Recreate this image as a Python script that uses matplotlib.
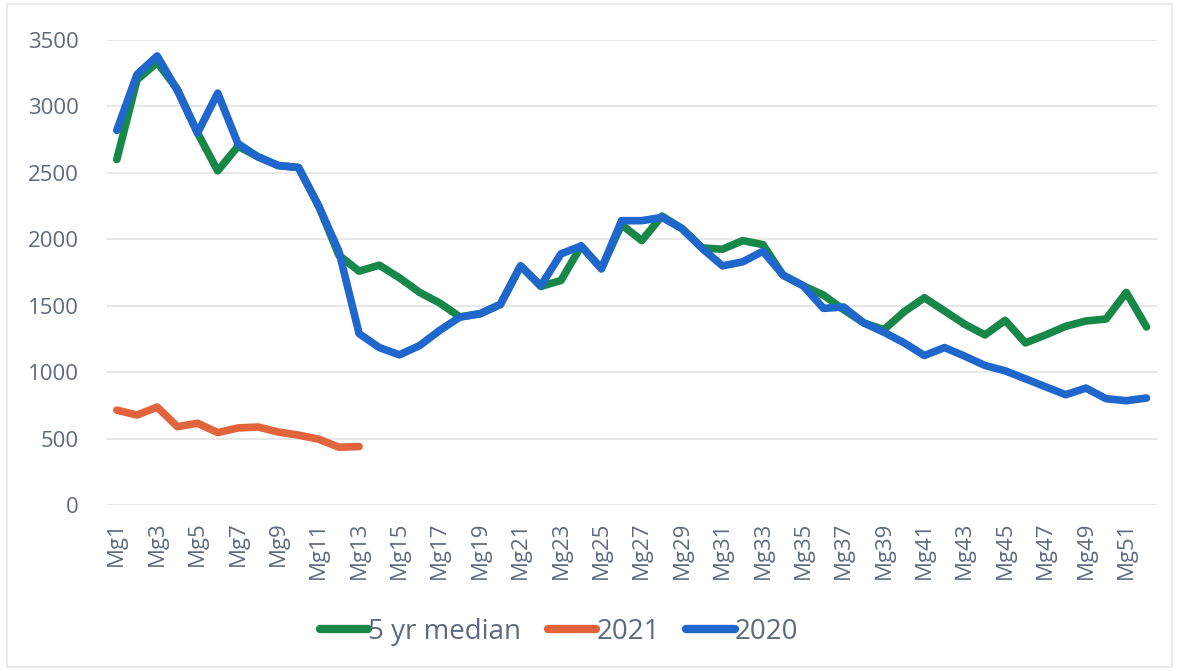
import matplotlib.pyplot as plt
from matplotlib.patches import Rectangle

# weeks Mg1..Mg52
weeks = ["Mg%d" % i for i in range(1, 53)]

median_5yr = [2600, 3200, 3330, 3130, 2800, 2515, 2700, 2620, 2555, 2540,
              2250, 1880, 1760, 1805, 1710, 1600, 1520, 1415, 1440, 1510,
              1800, 1645, 1690, 1950, 1780, 2110, 1990, 2175, 2080, 1935,
              1925, 1990, 1960, 1730, 1650, 1580, 1470, 1370, 1320, 1455,
              1560, 1460, 1360, 1280, 1390, 1220, 1280, 1345, 1385, 1400,
              1600, 1340]

y2021 = [714, 677, 737, 590, 615, 545, 580, 587, 549, 526, 495, 435, 440]

y2020 = [2820, 3240, 3380, 3120, 2800, 3100, 2720, 2620, 2555, 2540,
         2250, 1910, 1290, 1185, 1130, 1200, 1315, 1415, 1440, 1510,
         1800, 1650, 1890, 1950, 1777, 2140, 2140, 2165, 2080, 1930,
         1800, 1830, 1910, 1730, 1650, 1480, 1490, 1370, 1300, 1220,
         1125, 1185, 1120, 1050, 1010, 950, 890, 830, 880, 800,
         785, 805]

green = "#17874A"
orange = "#E2643C"
blue = "#1F67CC"
text_col = "#5B6B7D"

fig = plt.figure(figsize=(11.79, 6.71), dpi=100)
ax = fig.add_axes([0.0905, 0.2474, 0.8905, 0.693])

x = list(range(len(weeks)))
ax.plot(x, median_5yr, color=green, lw=5.5, solid_joinstyle="round",
        solid_capstyle="round", label="5 yr median", zorder=2)
ax.plot(x[:len(y2021)], y2021, color=orange, lw=5.5, solid_joinstyle="round",
        solid_capstyle="round", label="2021", zorder=3)
ax.plot(x, y2020, color=blue, lw=5.5, solid_joinstyle="round",
        solid_capstyle="round", label="2020", zorder=4)

ax.set_ylim(0, 3500)
ax.set_xlim(-0.5, len(weeks) - 0.5)
ax.set_yticks(range(0, 3501, 500))
ax.set_xticks(x[::2])
ax.set_xticklabels(weeks[::2], rotation=90, va="top", ha="center")
ax.grid(axis="y", color="#e3e3e3", lw=1.2)
ax.set_axisbelow(True)
for s in ax.spines.values():
    s.set_visible(False)
ax.tick_params(axis="both", length=0, colors=text_col, labelsize=16)
ax.tick_params(axis="y", pad=20)
ax.tick_params(axis="x", pad=12)
for t in ax.get_yticklabels() + ax.get_xticklabels():
    t.set_fontfamily("Open Sans")

leg = fig.legend(loc="center", bbox_to_anchor=(0.474, 0.058), ncol=3,
                 frameon=False, handlelength=1.75, handletextpad=0.0,
                 columnspacing=0.95, prop={"family": "Open Sans", "size": 20})
for t in leg.get_texts():
    t.set_color(text_col)
for h in leg.get_lines():
    h.set_linewidth(6)

fig.patches.append(Rectangle((0.006, 0.006), 0.988, 0.988, transform=fig.transFigure,
                             fill=False, edgecolor="#e6e6e6", lw=1.2))

fig.savefig("out.png", dpi=100)
